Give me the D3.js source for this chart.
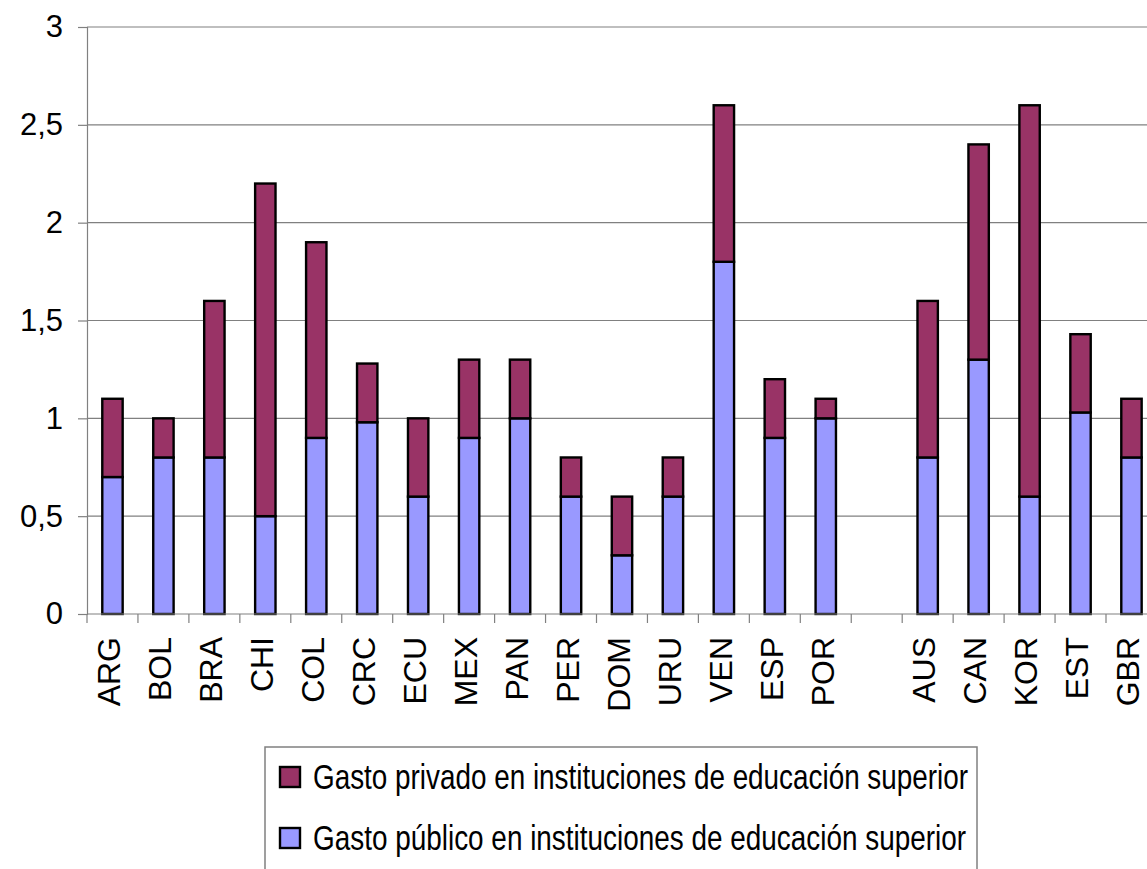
<!DOCTYPE html>
<html lang="es">
<head>
<meta charset="UTF-8">
<title>Gasto en instituciones de educación superior</title>
<style>
  body { margin: 0; background: #fff; }
  svg { display: block; font-family: "Liberation Sans", Arial, sans-serif; }
</style>
</head>
<body>
<div id="chart"></div>
<script src="https://d3js.org/d3.v7.min.js"></script>
<script>
// data (blank entry = gap between groups)
const countries = ["ARG", "BOL", "BRA", "CHI", "COL", "CRC", "ECU", "MEX", "PAN", "PER", "DOM", "URU", "VEN", "ESP", "POR", "", "AUS", "CAN", "KOR", "EST", "GBR"];
const publico = [0.7, 0.8, 0.8, 0.5, 0.9, 0.98, 0.6, 0.9, 1.0, 0.6, 0.3, 0.6, 1.8, 0.9, 1.0, null, 0.8, 1.3, 0.6, 1.03, 0.8];
const privado = [0.4, 0.2, 0.8, 1.7, 1.0, 0.3, 0.4, 0.4, 0.3, 0.2, 0.3, 0.2, 0.8, 0.3, 0.1, null, 0.8, 1.1, 2.0, 0.4, 0.3];
const yTicks = [0, 0.5, 1, 1.5, 2, 2.5, 3];
const yTickLabels = ["0", "0,5", "1", "1,5", "2", "2,5", "3"];
const seriesNames = ["Gasto privado en instituciones de educación superior", "Gasto público en instituciones de educación superior"];
const seriesColors = ["#993366", "#9999FF"];

const W = 1147, H = 869;
const plotLeft = 87, plotTop = 27, plotBottom = 614;
const band = 50.95;
const plotRight = plotLeft + band * countries.length; // runs past the right edge, as in the original

const keys = countries.map((c, i) => c || "gap" + i);
const x = d3.scaleBand().domain(keys).range([plotLeft, plotRight]).padding(0);
const y = d3.scaleLinear().domain([0, 3]).range([plotBottom, plotTop]);
const barW = x.bandwidth() * 0.4;

const svg = d3.select("#chart").append("svg")
  .attr("width", W).attr("height", H);

// gridlines
svg.append("g").selectAll("line")
  .data(yTicks.slice(1))
  .join("line")
  .attr("x1", plotLeft).attr("x2", plotRight)
  .attr("y1", d => y(d)).attr("y2", d => y(d))
  .attr("stroke", "#808080").attr("stroke-width", 1.2);

// y axis
const yAxis = svg.append("g")
  .attr("transform", `translate(${plotLeft},0)`)
  .call(d3.axisLeft(y).tickValues(yTicks).tickSize(9).tickPadding(15)
    .tickFormat((d, i) => yTickLabels[i]));
yAxis.select(".domain").attr("stroke", "#808080").attr("stroke-width", 1.2);
yAxis.selectAll(".tick line").attr("stroke", "#808080").attr("stroke-width", 1.2);
yAxis.selectAll(".tick text")
  .attr("font-size", 31).attr("fill", "#000")
  .style("font-family", "'Liberation Sans', Arial, sans-serif");

// bars
const rows = keys.map((k, i) => ({ key: k, pub: publico[i], priv: privado[i] }))
  .filter(d => d.pub != null);

const bars = svg.append("g");
bars.selectAll("rect.pub")
  .data(rows)
  .join("rect")
  .attr("class", "pub")
  .attr("x", d => x(d.key) + (x.bandwidth() - barW) / 2)
  .attr("width", barW)
  .attr("y", d => y(d.pub))
  .attr("height", d => y(0) - y(d.pub))
  .attr("fill", seriesColors[1])
  .attr("stroke", "#000").attr("stroke-width", 2.4);

bars.selectAll("rect.priv")
  .data(rows)
  .join("rect")
  .attr("class", "priv")
  .attr("x", d => x(d.key) + (x.bandwidth() - barW) / 2)
  .attr("width", barW)
  .attr("y", d => y(d.pub + d.priv))
  .attr("height", d => y(d.pub) - y(d.pub + d.priv))
  .attr("fill", seriesColors[0])
  .attr("stroke", "#000").attr("stroke-width", 2.4);

// x axis line + ticks at band edges
const xAxis = svg.append("g");
xAxis.append("line")
  .attr("x1", plotLeft).attr("x2", plotRight)
  .attr("y1", plotBottom).attr("y2", plotBottom)
  .attr("stroke", "#808080").attr("stroke-width", 1.2);
xAxis.selectAll("line.tick")
  .data(keys.concat(["end"]))
  .join("line")
  .attr("class", "tick")
  .attr("x1", (d, i) => plotLeft + i * x.step())
  .attr("x2", (d, i) => plotLeft + i * x.step())
  .attr("y1", plotBottom).attr("y2", plotBottom + 9)
  .attr("stroke", "#808080").attr("stroke-width", 1.2);

xAxis.selectAll("text")
  .data(keys.map((k, i) => ({ key: k, label: countries[i] })))
  .join("text")
  .attr("transform", d => `translate(${x(d.key) + x.bandwidth() / 2 - 2.5},${plotBottom + 23}) rotate(-90)`)
  .attr("text-anchor", "end")
  .attr("dy", "0.32em")
  .attr("font-size", 32)
  .text(d => d.label);

// legend
const legend = svg.append("g");
legend.append("rect")
  .attr("x", 265).attr("y", 747)
  .attr("width", 712).attr("height", 140)
  .attr("fill", "#fff")
  .attr("stroke", "#808080").attr("stroke-width", 1.5);

const legRows = [0, 1].map(i => ({ name: seriesNames[i], color: seriesColors[i], cy: 777 + i * 61 }));
legend.selectAll("rect.sw")
  .data(legRows)
  .join("rect")
  .attr("class", "sw")
  .attr("x", 280).attr("y", d => d.cy - 10)
  .attr("width", 20).attr("height", 20)
  .attr("fill", d => d.color)
  .attr("stroke", "#000").attr("stroke-width", 2.4);
legend.selectAll("text")
  .data(legRows)
  .join("text")
  .attr("x", 313).attr("y", d => d.cy + 12)
  .attr("font-size", 35)
  .attr("textLength", (d, i) => i === 0 ? 655 : 653)
  .attr("lengthAdjust", "spacingAndGlyphs")
  .text(d => d.name);
</script>
</body>
</html>
